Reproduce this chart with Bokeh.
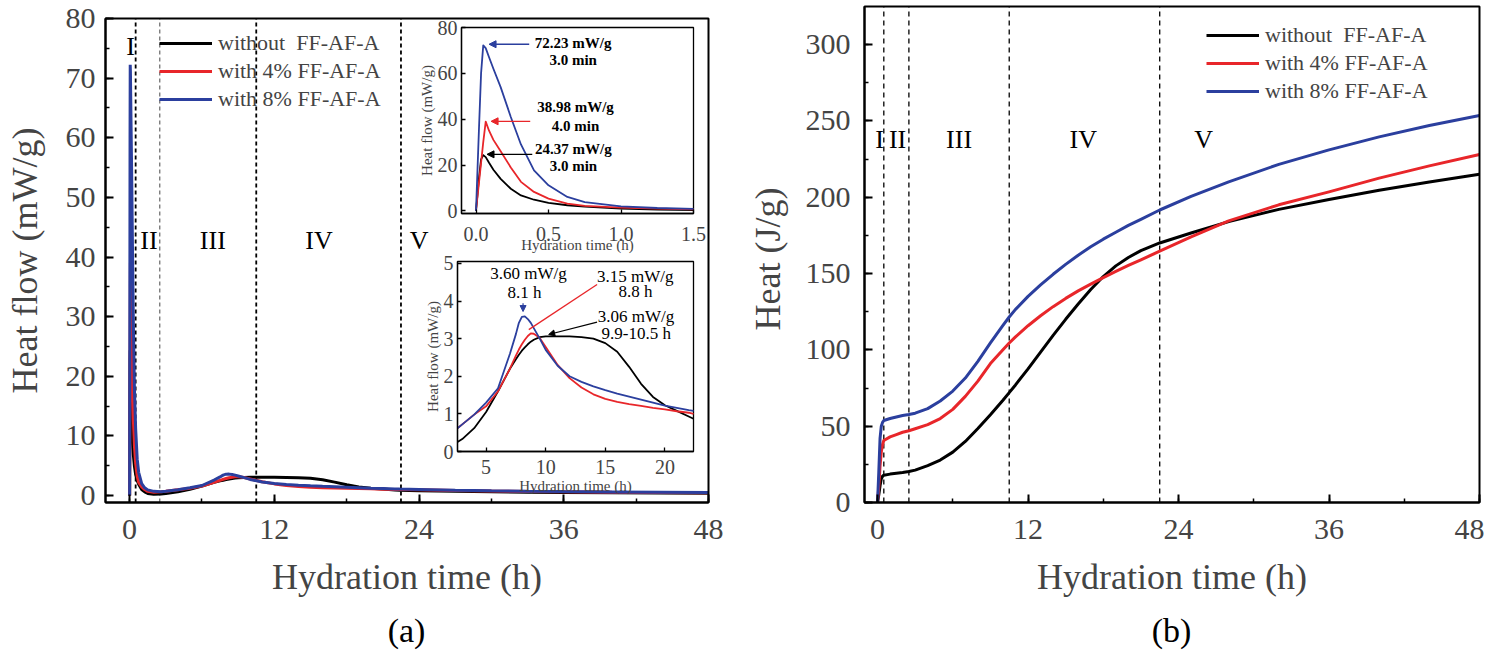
import numpy as np
from bokeh.plotting import figure
from bokeh.models import (Range1d, LinearAxis, SingleIntervalTicker, FixedTicker,
                          PrintfTickFormatter, Legend, LegendItem, Arrow, NormalHead)
from bokeh.embed import file_html
from bokeh.resources import INLINE
from bokeh.core.properties import value

FONT = "Liberation Serif"

SERIES = ["without  FF-AF-A", "with 4% FF-AF-A", "with 8% FF-AF-A"]
COLORS = ["#000000", "#e8262a", "#2b3f9e"]

# ---------------- (a) heat flow (mW/g) vs hydration time (h) ----------------
flow_t = [0, 0.02, 0.035, 0.05, 0.067, 0.09, 0.12, 0.17, 0.24, 0.31, 0.4, 0.5, 0.63, 0.75, 1.0, 1.25,
          1.5, 2.0,
          2.6, 3, 4, 5, 6, 7, 7.5, 7.75, 8, 8.25, 8.5, 8.75, 9, 9.5, 10, 11, 12, 13, 14, 15, 16, 17,
          18, 19, 20, 21, 22, 22.4,
          24, 27, 30, 33, 36, 40, 44, 48]
flow_black = [0, 14, 22.5, 24.37, 23.5, 21, 18, 14, 9.7, 6.8, 4.9, 3.5, 2.5, 1.9, 1.0, 0.6, 0.35, 0.22,
              0.25, 0.33, 0.62, 1.05, 1.6, 2.2, 2.45, 2.57, 2.68, 2.77, 2.85, 2.92, 2.97, 3.04, 3.06,
              3.06, 3.06, 3.04, 3.0, 2.88, 2.65, 2.25, 1.8, 1.45, 1.23, 1.08, 0.93, 0.87,
              0.8, 0.7, 0.62, 0.56, 0.52, 0.47, 0.43, 0.4]
flow_red = [0, 12, 21, 30, 38.98, 35, 31, 26, 19, 12.7, 8.3, 5.4, 3.2, 2.2, 1.45, 1.0, 0.7, 0.55,
            0.62, 0.72, 0.98, 1.2, 1.6, 2.2, 2.55, 2.71, 2.85, 2.97, 3.07, 3.14, 3.13, 3.02, 2.78,
            2.3, 1.95, 1.7, 1.52, 1.4, 1.32, 1.26, 1.21, 1.16, 1.12, 1.07, 1.03, 1.0,
            0.95, 0.85, 0.76, 0.68, 0.62, 0.55, 0.5, 0.46]
flow_blue = [0, 35, 60, 72.23, 71, 67, 62, 54, 41, 29, 17.7, 11.2, 6.1, 3.9, 2.0, 1.3, 0.95, 0.7,
             0.62, 0.72, 0.98, 1.3, 1.68, 2.6, 3.12, 3.42, 3.58, 3.59, 3.52, 3.42, 3.28, 3.0, 2.7,
             2.28, 2.0, 1.85, 1.73, 1.63, 1.54, 1.46, 1.38, 1.3, 1.22, 1.16, 1.1, 1.08,
             1.02, 0.9, 0.8, 0.72, 0.66, 0.6, 0.55, 0.5]

a_stage_x = [0.5, 2.5, 10.5, 22.5]
a_roman = ["I", "II", "III", "IV", "V"]
a_roman_x = [0.08, 1.6, 6.9, 15.7, 24.0]
a_roman_y = [75.3, 42.7, 42.7, 42.7, 42.7]

# inset 1 (0-1.5 h) annotations
i1_txt = ["72.23 mW/g", "3.0 min", "38.98 mW/g", "4.0 min", "24.37 mW/g", "3.0 min"]
i1_txt_x = [0.67, 0.67, 0.686, 0.686, 0.672, 0.672]
i1_txt_y = [73.2, 65.7, 45.2, 37.0, 26.9, 19.5]
i1_arrow_x0 = [0.367, 0.374, 0.388]
i1_arrow_x1 = [0.09, 0.104, 0.076]
i1_arrow_y = [72.7, 39.1, 24.7]

# inset 2 (2.6-22.4 h) annotations
i2_txt = ["3.60 mW/g", "8.1 h", "3.15 mW/g", "8.8 h", "3.06 mW/g", "9.9-10.5 h"]
i2_txt_x = [8.56, 8.22, 17.52, 17.53, 17.58, 17.6]
i2_txt_y = [4.73, 4.23, 4.66, 4.24, 3.59, 3.13]
i2_blue_arrow = [8.1, 3.94, 8.1, 3.72]
i2_red_line = [8.58, 3.24, 14.31, 4.44]
i2_black_arrow = [14.31, 3.44, 10.25, 3.11]

# ---------------- (b) cumulative heat (J/g) ----------------
heat_t = [0, 0.1, 0.2, 0.3, 0.4, 0.5, 1, 1.5, 2, 2.5, 3, 4, 5, 6, 7, 8, 9, 10, 10.5,
          11, 12, 13, 14, 15, 16, 17, 18, 19, 20, 21, 22.5, 25, 28, 32, 36, 40, 44, 48]
heat_black = [0, 5, 11, 15.5, 17.2, 17.9, 18.6, 19.1, 19.6, 20.3, 21.2, 24.2, 27.8, 33, 40, 48.5, 57.5, 67, 72,
              77, 87.5, 98.5, 109.5, 120, 130, 139.5, 148, 155, 160.5, 165, 170, 176.5, 184, 192, 198.5,
              204.5, 210, 215]
heat_red = [0, 10, 24, 33, 38, 40.6, 43, 44.5, 46, 47, 48.3, 51, 55, 61, 69.5, 79.5, 91, 100, 104.5,
            108.5, 115.8, 122.3, 128.3, 133.7, 138.6, 143, 147.3, 151.4, 155.3, 159, 164.6, 174, 184.5,
            195, 203.5, 212.5, 220.5, 228]
heat_blue = [0, 20, 42, 50, 52.5, 53.7, 55, 56, 57, 57.6, 58.5, 61.5, 66.5, 73, 81.5, 92.5, 104.5, 116, 121.5,
             126.5, 135, 142.5, 149.5, 156, 162, 167.5, 172.5, 177, 181.5, 185.5, 191.6, 200.5, 210,
             221.5, 231, 239.5, 247, 253.5]

b_stage_x = [0.5, 2.5, 10.5, 22.5]
b_roman = ["I", "II", "III", "IV", "V"]
b_roman_x = [0.16, 1.6, 6.5, 16.4, 26.0]
b_roman_y = [238, 238, 238, 238, 238]

# ---------------- one canvas, panels placed through their own ranges ----------------
W, H = 1484, 652
p = figure(frame_width=W, frame_height=H, x_range=Range1d(0, W), y_range=Range1d(0, H),
           min_border=0, min_border_left=0, min_border_right=0, min_border_top=0,
           min_border_bottom=0, x_axis_location=None, y_axis_location=None,
           output_backend="svg", toolbar_location=None)
p.grid.visible = False
p.outline_line_color = None
p.background_fill_color = "white"
p.border_fill_color = "white"


def ext_range(d0, d1, p0, p1, length):
    k = (d1 - d0) / (p1 - p0)
    return Range1d(start=d0 - p0 * k, end=d0 + (length - p0) * k)


def add_panel(name, xr, yr, left, right, top, bottom):
    """Panel box in canvas pixels (top/bottom measured from the canvas top)."""
    xn, yn = name + "x", name + "y"
    p.extra_x_ranges[xn] = ext_range(xr[0], xr[1], left, right, W)
    p.extra_y_ranges[yn] = ext_range(yr[0], yr[1], H - bottom, H - top, H)
    return xn, yn


def style_axis(ax, tick_size, label_size, line_w, tick_in, minor_in):
    ax.axis_line_width = line_w
    ax.major_tick_line_width = line_w
    ax.minor_tick_line_width = line_w * 0.75
    ax.major_tick_in = tick_in
    ax.major_tick_out = 0
    ax.minor_tick_in = minor_in
    ax.minor_tick_out = 0
    ax.major_label_text_font = FONT
    ax.major_label_text_font_size = tick_size
    ax.axis_label_text_font = FONT
    ax.axis_label_text_font_size = label_size
    ax.axis_label_text_font_style = "normal"


def panel_axes(xn, yn, xr, yr, xticker, yticker, xlabel, ylabel, tick_size, label_size,
               line_w, tick_in, minor_in, xs, xls, ys, yls, xfmt=None):
    ax = LinearAxis(x_range_name=xn, y_range_name=yn, fixed_location=yr[0], bounds=xr,
                    ticker=xticker, axis_label=xlabel)
    if xfmt is not None:
        ax.formatter = PrintfTickFormatter(format=xfmt)
    style_axis(ax, tick_size, label_size, line_w, tick_in, minor_in)
    ax.major_label_standoff = xs
    ax.axis_label_standoff = xls
    p.add_layout(ax, "below")
    ay = LinearAxis(x_range_name=xn, y_range_name=yn, fixed_location=xr[0], bounds=yr,
                    ticker=yticker, axis_label=ylabel)
    style_axis(ay, tick_size, label_size, line_w, tick_in, minor_in)
    ay.major_label_standoff = ys
    ay.axis_label_standoff = yls
    p.add_layout(ay, "left")


def box(xn, yn, xr, yr, lw, fill):
    p.quad(left=[xr[0]], right=[xr[1]], bottom=[yr[0]], top=[yr[1]], fill_color=fill,
           line_color="black", line_width=lw, x_range_name=xn, y_range_name=yn)


def make_legend(renderers, loc):
    lg = Legend(items=[LegendItem(label=SERIES[i], renderers=[renderers[i]]) for i in range(3)],
                location=loc, label_text_font=FONT, label_text_font_size="22px",
                glyph_width=53, glyph_height=28, label_height=28, spacing=0, padding=0,
                margin=0, label_standoff=6, border_line_color=None, background_fill_alpha=0)
    p.add_layout(lg)


# ======================= panel (a) =======================
A_XR, A_YR = (-2, 48), (-1.17, 80)
axn, ayn = add_panel("a", A_XR, A_YR, 105, 708, 18, 502)

for i, xs in enumerate(a_stage_x):
    gray = (i == 1)
    p.segment(x0=[xs], y0=[A_YR[0]], x1=[xs], y1=[A_YR[1]],
              line_color="#666666" if gray else "black", line_width=1.2 if gray else 1.8,
              line_dash="4 3", x_range_name=axn, y_range_name=ayn)

flows = [flow_black, flow_red, flow_blue]
ra = [p.line(flow_t, flows[i], line_color=COLORS[i], line_width=3,
             x_range_name=axn, y_range_name=ayn) for i in range(3)]
make_legend(ra, (159, 539))

p.text(x=a_roman_x, y=a_roman_y, text=a_roman, text_font=value(FONT), text_font_size="26px",
       text_align="center", text_baseline="middle", text_color="black",
       x_range_name=axn, y_range_name=ayn)

box(axn, ayn, A_XR, A_YR, 2, None)
panel_axes(axn, ayn, A_XR, A_YR, SingleIntervalTicker(interval=12, num_minor_ticks=2),
           SingleIntervalTicker(interval=10, num_minor_ticks=2), "Hydration time (h)",
           "Heat flow (mW/g)", "30px", "36px", 2, 8, 4, 17, 15, 10, 18)

# ---- insets ----
ft = np.array(flow_t)
INSETS = [
    dict(name="i1", xr=(-0.1, 1.5), yr=(-1.1, 80), box=(461, 693, 27, 213),
         xt=[0, 0.5, 1.0, 1.5], yt=[0, 20, 40, 60, 80], fmt="%.1f",
         mask=ft <= 1.5, xs=13, xls=-7),
    dict(name="i2", xr=(2.6, 22.4), yr=(0, 5.05), box=(457, 693, 261, 451),
         xt=[5, 10, 15, 20], yt=[0, 1, 2, 3, 4, 5], fmt="%d",
         mask=(ft >= 2.6) & (ft <= 22.4), xs=8, xls=1),
]
for ins in INSETS:
    l, r, t, b = ins["box"]
    xn, yn = add_panel(ins["name"], ins["xr"], ins["yr"], l, r, t, b)
    box(xn, yn, ins["xr"], ins["yr"], 1.3, "white")
    m = ins["mask"]
    for i in range(3):
        p.line(ft[m], np.array(flows[i])[m], line_color=COLORS[i], line_width=1.8,
               line_join="round", x_range_name=xn, y_range_name=yn)
    panel_axes(xn, yn, ins["xr"], ins["yr"], FixedTicker(ticks=ins["xt"], minor_ticks=[]),
               FixedTicker(ticks=ins["yt"], minor_ticks=[]), "Hydration time (h)",
               "Heat flow (mW/g)", "20px", "15px", 1.3, 4, 0, ins["xs"], ins["xls"], 4, 0,
               xfmt=ins["fmt"])

# inset 1 annotations
p.text(x=i1_txt_x, y=i1_txt_y, text=i1_txt, text_font=value(FONT), text_font_size="15px",
       text_font_style="bold", text_align="center", text_baseline="middle", text_color="black",
       x_range_name="i1x", y_range_name="i1y")
for i in range(3):
    p.add_layout(Arrow(x_start=i1_arrow_x0[i], y_start=i1_arrow_y[i], x_end=i1_arrow_x1[i],
                       y_end=i1_arrow_y[i], line_color=COLORS[2 - i], line_width=1.3,
                       end=NormalHead(size=7, fill_color=COLORS[2 - i], line_color=COLORS[2 - i]),
                       x_range_name="i1x", y_range_name="i1y"))

# inset 2 annotations
p.text(x=i2_txt_x, y=i2_txt_y, text=i2_txt, text_font=value(FONT), text_font_size="17px",
       text_align="center", text_baseline="middle", text_color="black",
       x_range_name="i2x", y_range_name="i2y")
p.add_layout(Arrow(x_start=i2_blue_arrow[0], y_start=i2_blue_arrow[1], x_end=i2_blue_arrow[2],
                   y_end=i2_blue_arrow[3], line_color=COLORS[2], line_width=1.2,
                   end=NormalHead(size=6, fill_color=COLORS[2], line_color=COLORS[2]),
                   x_range_name="i2x", y_range_name="i2y"))
p.line([i2_red_line[0], i2_red_line[2]], [i2_red_line[1], i2_red_line[3]], line_color=COLORS[1],
       line_width=1.3, x_range_name="i2x", y_range_name="i2y")
p.add_layout(Arrow(x_start=i2_black_arrow[0], y_start=i2_black_arrow[1], x_end=i2_black_arrow[2],
                   y_end=i2_black_arrow[3], line_color="black", line_width=1.2,
                   end=NormalHead(size=6, fill_color="black", line_color="black"),
                   x_range_name="i2x", y_range_name="i2y"))

# ======================= panel (b) =======================
B_XR, B_YR = (-1.04, 48), (0, 324.9)
bxn, byn = add_panel("b", B_XR, B_YR, 864, 1479, 6, 502)

for xs in b_stage_x:
    p.segment(x0=[xs], y0=[B_YR[0]], x1=[xs], y1=[B_YR[1]], line_color="black",
              line_width=1.3, line_dash="5 4", x_range_name=bxn, y_range_name=byn)

heats = [heat_black, heat_red, heat_blue]
rb = [p.line(heat_t, heats[i], line_color=COLORS[i], line_width=3, line_join="round",
             x_range_name=bxn, y_range_name=byn) for i in range(3)]
make_legend(rb, (1206, 547))

p.text(x=b_roman_x, y=b_roman_y, text=b_roman, text_font=value(FONT), text_font_size="26px",
       text_align="center", text_baseline="middle", text_color="black",
       x_range_name=bxn, y_range_name=byn)

box(bxn, byn, B_XR, B_YR, 2, None)
panel_axes(bxn, byn, B_XR, B_YR, SingleIntervalTicker(interval=12, num_minor_ticks=2),
           SingleIntervalTicker(interval=50, num_minor_ticks=2), "Hydration time (h)",
           "Heat  (J/g)", "30px", "36px", 2, 8, 4, 17, 15, 14, 15)

# ---- panel captions (canvas pixel positions, y measured from the canvas bottom) ----
p.text(x=[406, 1171], y=[22, 22], text=["(a)", "(b)"], text_font=value(FONT),
       text_font_size="34px", text_align="center", text_baseline="middle", text_color="black")

open("out.html", "w").write(file_html(p, INLINE))
